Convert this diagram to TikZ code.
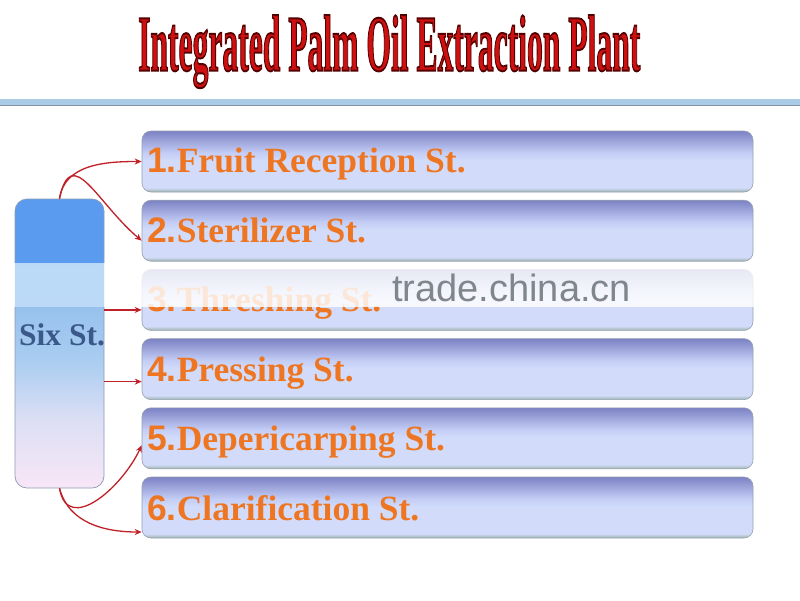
\documentclass[tikz,border=0pt]{standalone}
\usepackage{fontspec}
\setmainfont{Liberation Serif}
\newfontfamily\arialfont{Liberation Sans}
\newfontfamily\titlefont[FakeBold=2.5]{Liberation Serif}
\usetikzlibrary{arrows.meta}
\definecolor{titlered}{RGB}{206,16,16}
\definecolor{itemorange}{RGB}{238,118,34}
\definecolor{arrowred}{RGB}{192,32,40}
\definecolor{sixblue}{RGB}{58,88,138}
\definecolor{bartop}{RGB}{124,130,196}
\definecolor{barmid}{RGB}{196,206,246}
\definecolor{barlight}{RGB}{210,220,250}
\definecolor{barbot}{RGB}{156,178,172}
\definecolor{baredge}{RGB}{150,160,176}
\definecolor{boxblue}{RGB}{91,155,239}
\definecolor{boxblue2}{RGB}{140,188,240}
\definecolor{boxblue3}{RGB}{152,194,238}
\definecolor{boxblue4}{RGB}{170,205,240}
\definecolor{boxlav}{RGB}{220,223,245}
\definecolor{boxpink}{RGB}{248,230,246}
\definecolor{boxedge}{RGB}{140,155,180}
\definecolor{boxtint}{RGB}{172,210,246}
\definecolor{rulefill}{RGB}{170,204,230}
\definecolor{ruleedge}{RGB}{130,148,165}
\definecolor{wmgray}{RGB}{128,134,142}
\pgfdeclareverticalshading{barshade}{100bp}{color(0bp)=(barbot); color(25bp)=(barbot); color(28.5bp)=(barlight); color(50bp)=(barlight); color(57bp)=(barmid); color(75bp)=(bartop); color(100bp)=(bartop)}
\pgfdeclareverticalshading{boxshade}{100bp}{color(0bp)=(boxpink); color(25bp)=(boxpink); color(36.8bp)=(boxlav); color(47bp)=(boxblue4); color(55.8bp)=(boxblue3); color(63.4bp)=(boxblue2); color(64bp)=(boxblue); color(75bp)=(boxblue); color(100bp)=(boxblue)}
\newcommand\stlabel[2]{{\arialfont\bfseries #1.}#2}
\newcommand\titletext{Integrated Palm Oil Extraction Plant}
\begin{document}
\begin{tikzpicture}[x=1pt,y=1pt,
  barbox/.style={rectangle, rounded corners=9pt, minimum width=611pt, minimum height=61pt, inner sep=0pt, shading=barshade, draw=baredge, line width=0.6pt},
  stationlabel/.style={anchor=base west, inner sep=0pt, text=itemorange, font=\fontsize{35.5}{40}\selectfont\bfseries},
  arr/.style={draw=arrowred, line width=1.3pt, -{Stealth[length=7pt,width=6pt]}}]
\useasboundingbox (0,0) rectangle (800,-600);
\fill[white] (0,0) rectangle (800,-600);
% title
\node[anchor=north west, inner sep=0pt] (title) at (138,-15)
  {\resizebox*{502pt}{73pt}{\color{titlered}\special{pdf:code 0.33 0 0 RG}\titlefont\bfseries\titletext}};
% rule
\fill[rulefill] (0,-98.5) rectangle (800,-105);
\draw[ruleedge, line width=1pt] (0,-105.5) -- (800,-105.5);
% bars
\node[barbox] (b1) at (447.5,-161.5) {};
\node[barbox] (b2) at (447.5,-230.7) {};
\node[barbox] (b3) at (447.5,-299.9) {};
\node[barbox] (b4) at (447.5,-369.1) {};
\node[barbox] (b5) at (447.5,-438.3) {};
\node[barbox] (b6) at (447.5,-507.5) {};
\node[stationlabel] (l1) at (147,-172) {\stlabel{1}{Fruit Reception St.}};
\node[stationlabel] (l2) at (147,-242) {\stlabel{2}{Sterilizer St.}};
\node[stationlabel] (l3) at (147,-311) {\stlabel{3}{Threshing St.}};
\node[stationlabel] (l4) at (147,-381) {\stlabel{4}{Pressing St.}};
\node[stationlabel] (l5) at (147,-450) {\stlabel{5}{Depericarping St.}};
\node[stationlabel] (l6) at (147,-520) {\stlabel{6}{Clarification St.}};
% left box
\node[rectangle, rounded corners=12pt, minimum width=89pt, minimum height=289pt, inner sep=0pt, shading=boxshade, draw=boxedge, line width=0.7pt] (six) at (59.5,-343.5) {};
\node[anchor=base west, inner sep=0pt, text=sixblue, font=\fontsize{31.5}{36}\selectfont\bfseries] (sixlabel) at (19,-345) {Six St.};
% connectors
\draw[arr] (six.north) to[out=82,in=180] (b1.west);
\draw[arr] (six.north) to[out=78,in=140,looseness=1.6] ([yshift=-10pt]b2.west);
\draw[arr] ([yshift=-10pt]b3.west -| six.east) -- ([yshift=-10pt]b3.west);
\draw[arr] ([yshift=-12.5pt]b4.west -| six.east) -- ([yshift=-12.5pt]b4.west);
\draw[arr] (six.south) to[out=-80,in=-115,looseness=1.3] ([yshift=-7pt]b5.west);
\draw[arr] (six.south) to[out=-75,in=180] ([yshift=-24.5pt]b6.west);
% watermark band
\fill[white, opacity=0.82] (0,-263) rectangle (762,-307);
\fill[boxtint, opacity=0.75] (15,-263) rectangle (104,-307);
\node[anchor=base west, inner sep=0pt, text=wmgray, font=\arialfont\fontsize{38}{42}\selectfont] (wm) at (392,-301) {trade.china.cn};
\end{tikzpicture}
\end{document}
